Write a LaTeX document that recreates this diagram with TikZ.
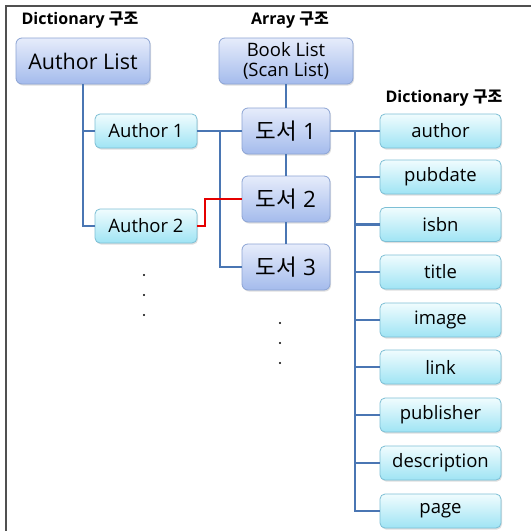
\documentclass[tikz,border=0pt]{standalone}
\usepackage{fontspec}
\setmainfont{Open Sans}
\newfontfamily\kr{Noto Sans CJK KR}
\usetikzlibrary{shadows}
\definecolor{bluetop}{HTML}{E6ECFB}
\definecolor{bluebot}{HTML}{A4BBEC}
\definecolor{blueedge}{HTML}{8CA4D4}
\definecolor{cyantop}{HTML}{F0FCFE}
\definecolor{cyanbot}{HTML}{9FE4F4}
\definecolor{cyanedge}{HTML}{7DBFD5}
\definecolor{linec}{HTML}{4A76B3}
\definecolor{framec}{HTML}{505050}
\tikzset{
  bluebox/.style={draw=blueedge, line width=0.8pt, rounded corners=6pt,
    top color=bluetop, bottom color=bluebot, inner sep=0pt, align=center,
    drop shadow={shadow xshift=1pt, shadow yshift=-1.5pt, opacity=0.25}},
  cyanbox/.style={draw=cyanedge, line width=0.8pt, rounded corners=5pt,
    top color=cyantop, bottom color=cyanbot, inner sep=0pt, align=center,
    minimum height=34pt, font=\fontsize{18.5}{20}\selectfont,
    drop shadow={shadow xshift=1pt, shadow yshift=-1.5pt, opacity=0.25}},
  conn/.style={draw=linec, line width=2.2pt},
  redconn/.style={draw=red!90!black, line width=2.2pt},
  title/.style={font=\bfseries\fontsize{16}{18}\selectfont, inner sep=0pt},
  dotn/.style={circle, fill=black, inner sep=0pt, minimum size=2.4pt}
}
\begin{document}
\begin{tikzpicture}[x=1pt, y=-1pt]
\useasboundingbox (0,0) rectangle (531,531);
\fill[white] (0,0) rectangle (531,531);
\draw[framec, line width=1.6pt] (6,531) -- (6,6) -- (531,6);

% titles
\node[title] (t1) at (80,20) {Dictionary {\kr 구조}};
\node[title] (t2) at (290,20) {Array {\kr 구조}};
\node[title] (t3) at (444,98) {Dictionary {\kr 구조}};

% left dictionary
\node[bluebox, minimum width=134pt, minimum height=46pt, font=\fontsize{21.5}{23}\selectfont] (al) at (83,61) {Author List};
\node[cyanbox, minimum width=102pt] (a1) at (146,131) {Author 1};
\node[cyanbox, minimum width=102pt] (a2) at (146,226) {Author 2};

% array
\node[bluebox, minimum width=134pt, minimum height=46pt, font=\fontsize{18.5}{21}\selectfont] (bl) at (286,61) {Book List\\[-1pt](Scan List)};
\node[bluebox, minimum width=88pt, minimum height=46pt, font=\fontsize{22.5}{24}\selectfont] (b1) at (286,131) {{\kr 도서} 1};
\node[bluebox, minimum width=88pt, minimum height=46pt, font=\fontsize{22.5}{24}\selectfont] (b2) at (286,199) {{\kr 도서} 2};
\node[bluebox, minimum width=88pt, minimum height=46pt, font=\fontsize{22.5}{24}\selectfont] (b3) at (286,267) {{\kr 도서} 3};

% fields
\foreach \n/\y/\t in {f1/131/author, f2/177/pubdate, f3/224.5/isbn, f4/272/title, f5/320/image, f6/367/link, f7/415/publisher, f8/463/description, f9/511/page}
  \node[cyanbox, minimum width=121pt] (\n) at (440.5,\y) {\t};

% dots
\node[dotn] (d1) at (144,275) {};
\node[dotn] (d2) at (144,295) {};
\node[dotn] (d3) at (144,315) {};
\node[dotn] (d4) at (280,323) {};
\node[dotn] (d5) at (280,343) {};
\node[dotn] (d6) at (280,363) {};

% connectors
\draw[conn] (al.south) -- (al.south |- a2.west) -- (a2.west);
\draw[conn] (al.south |- a1.west) -- (a1.west);

\draw[conn] (a1.east) -- (b1.west);
\coordinate (j1) at (220,131);
\draw[conn] (j1) |- (b3.west);

\coordinate (r1) at (205,226);
\draw[redconn] (a2.east) -- (r1) |- (b2.west);

\draw[conn] (bl.south) -- (b1.north);
\draw[conn] (b1.south) -- (b2.north);
\draw[conn] (b2.south) -- (b3.north);

\draw[conn] (b1.east) -- (f1.west);
\coordinate (j2) at (355,131);
\draw[conn] (j2) |- (f9.west);
\foreach \n in {f2,f3,f4,f5,f6,f7,f8}
  \draw[conn] (j2 |- \n.west) -- (\n.west);
\end{tikzpicture}
\end{document}
